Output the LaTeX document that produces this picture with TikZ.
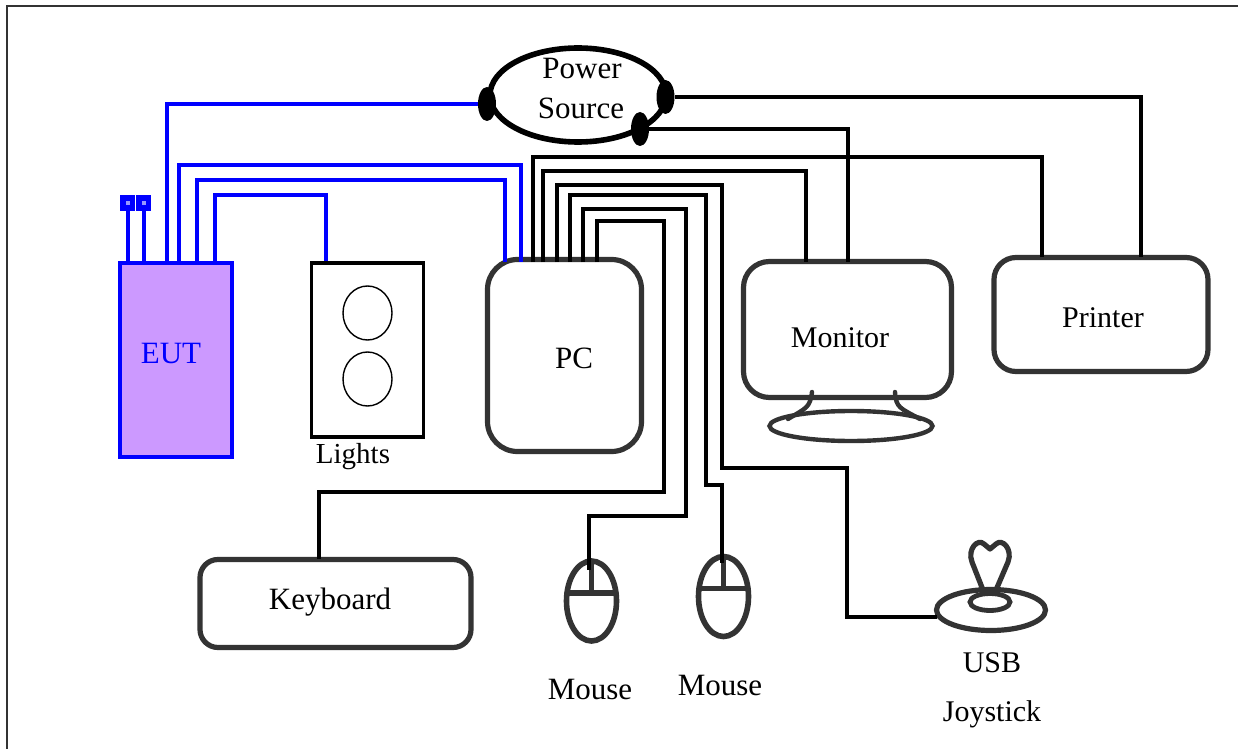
\documentclass[tikz,border=0pt]{standalone}
\usepackage{fontspec}
\setmainfont{Liberation Serif}
\usepackage{xcolor}
\usetikzlibrary{positioning,shapes.geometric}
\definecolor{eutfill}{HTML}{CC99FF}
\definecolor{boxline}{HTML}{333333}
\tikzset{
  wire/.style={line width=2pt,draw=black,line join=miter},
  bluewire/.style={line width=2pt,draw=blue,line join=miter},
  unit/.style={draw=boxline,line width=2.6pt,rounded corners=#1,inner sep=0pt,fill=white},
  unit/.default=12pt,
  plug/.style={ellipse,fill=black,minimum width=9pt,minimum height=17pt,inner sep=0pt},
  lamp/.style={ellipse,draw=black,line width=0.7pt,minimum width=24.5pt,minimum height=27pt,inner sep=0pt},
  lbl/.style={font=\fontsize{#1}{18}\selectfont,inner sep=0pt},
  lbl/.default=15.5
}
\begin{document}
\begin{tikzpicture}[x=0.5pt,y=-0.5pt]
  \useasboundingbox (0,0) rectangle (1238,749);
  \fill[white] (0,0) rectangle (1238,749);
  % Outer frame.
  \draw[line width=1pt,draw=boxline] (7,749) -- (7,6) -- (1238,6);

  % EUT and its terminals.
  \node[draw=blue,line width=2pt,fill=eutfill,minimum width=56pt,minimum height=97pt,inner sep=0pt] (eut) at (175.5,360) {};
  \node[lbl,text=blue] (eutlab) at (171,354) {EUT};
  \foreach \tx/\tn in {127.5/termA,143.5/termB}{
    \node[fill=blue,minimum width=7.8pt,minimum height=8pt,inner sep=0pt] (\tn) at (\tx,203) {};
    \fill[blue!40!white] (\tx-2,201) rectangle (\tx+2,205);
    \draw[bluewire] (\tn.south) -- (\tx,263);
  }

  % Lights.
  \node[draw=black,line width=1.6pt,minimum width=56pt,minimum height=87pt,inner sep=0pt] (lights) at (367.5,350) {};
  \node[lamp] (lampA) at (367.5,313) {};
  \node[lamp] (lampB) at (367.5,379) {};
  \node[lbl=14.5] (lightslab) at (353,457) {Lights};

  % Computer units.
  \node[unit=15pt,minimum width=77pt,minimum height=96pt] (pc) at (564.5,355.5) {};
  \node[lbl] (pclab) at (574,358) {PC};
  \node[unit=13pt,minimum width=104pt,minimum height=68pt] (monitor) at (847.5,329.5) {};
  \node[lbl=15] (monitorlab) at (840,338) {Monitor};
  \node[unit=11pt,minimum width=107pt,minimum height=57pt] (printer) at (1101,314.5) {};
  \node[lbl=15] (printerlab) at (1103,318) {Printer};
  \node[unit=9pt,minimum width=135.5pt,minimum height=44pt] (keyboard) at (335.5,603.5) {};
  \node[lbl] (keyboardlab) at (330,602) {Keyboard};

  % Monitor stand.
  \node[ellipse,draw=boxline,line width=2.2pt,minimum width=81.5pt,minimum height=15pt,inner sep=0pt] (stand) at (851,426) {};
  \draw[draw=boxline,line width=2.2pt,line cap=round] (812,392) .. controls (810,408) and (806,408) .. (788,419);
  \draw[draw=boxline,line width=2.2pt,line cap=round] (895,392) .. controls (896,408) and (900,408) .. (920,419);

  % Mice.
  \foreach \mx/\my/\mn in {591.5/601/mouseA,723.5/596.5/mouseB}{
    \node[ellipse,draw=boxline,line width=2.8pt,minimum width=25pt,minimum height=40pt,inner sep=0pt] (\mn) at (\mx,\my) {};
    \draw[draw=boxline,line width=2.8pt] (\mx-25,\my-8) -- (\mx+25,\my-8);
    \draw[draw=boxline,line width=2.8pt] (\mx,\my-40) -- (\mx,\my-8);
  }
  \node[lbl] (mouseAlab) at (590,689) {Mouse};
  \node[lbl] (mouseBlab) at (720,685) {Mouse};

  % Joystick.
  \node[ellipse,draw=boxline,line width=2.6pt,minimum width=54.5pt,minimum height=20.5pt,inner sep=0pt] (joybase) at (991,610) {};
  \node[ellipse,draw=boxline,line width=2.4pt,minimum width=20pt,minimum height=8.5pt,inner sep=0pt] (joyhub) at (990,602) {};
  \draw[draw=boxline,line width=2.6pt,line join=round] (983,590) -- (972,562) .. controls (967,549) and (978,538) .. (984,544) -- (990,549) -- (996,544) .. controls (1002,538) and (1013,549) .. (1008,562) -- (996,590);
  \node[lbl=15] (usblab) at (992,663) {USB};
  \node[lbl=15] (joylab) at (992,714) {Joystick};

  % Power source with its three plugs.
  \node[ellipse,draw=black,line width=2.8pt,minimum width=88pt,minimum height=47pt,inner sep=0pt] (power) at (578,95) {};
  \node[lbl] (powerlab) at (582,69) {Power};
  \node[lbl] (sourcelab) at (581,108) {Source};
  \node[plug] (plugL) at (487,104) {};
  \node[plug] (plugR) at (665.5,97) {};
  \node[plug] (plugB) at (640,129) {};

  % Ports on top of the units.
  \foreach \px/\pn in {533/pcA,543/pcB,557/pcC,570/pcD,583/pcE,597/pcF,505/pcG,521/pcH}
    \coordinate (\pn) at (\px,262);
  \foreach \px/\pn in {167/eutA,179/eutB,197/eutC,215/eutD}
    \coordinate (\pn) at (\px,263);
  \coordinate (lightsT) at (325.5,261);
  \coordinate (monitorA) at (806,262);
  \coordinate (monitorB) at (848,262);
  \coordinate (printerA) at (1042,257);
  \coordinate (printerB) at (1141,257);
  \coordinate (keyboardT) at (319,559);
  \coordinate (mouseAT) at (589,570);
  \coordinate (mouseBT) at (722,563);
  \coordinate (joyW) at (937,617);

  % Blue cabling from the EUT.
  \draw[bluewire] (eutA) |- (plugL);
  \draw[bluewire] (eutB) |- (521,165) -- (pcH);
  \draw[bluewire] (eutC) |- (505,180) -- (pcG);
  \draw[bluewire] (eutD) |- (325.5,195) -- (lightsT);

  % Black cabling from the PC.
  \draw[wire] (pcA) |- (1042,157) -- (printerA);
  \draw[wire] (pcB) |- (806,171) -- (monitorA);
  \draw[wire] (pcC) |- (722,185) |- (847,468) |- (joyW);
  \draw[wire] (pcD) |- (706,195) |- (722,485) -- (mouseBT);
  \draw[wire] (pcE) |- (686,209) |- (589,516) -- (mouseAT);
  \draw[wire] (pcF) |- (664,221) |- (319,492) -- (keyboardT);

  % Mains leads.
  \draw[wire] (plugR) -| (printerB);
  \draw[wire] (plugB) -| (monitorB);
\end{tikzpicture}
\end{document}
